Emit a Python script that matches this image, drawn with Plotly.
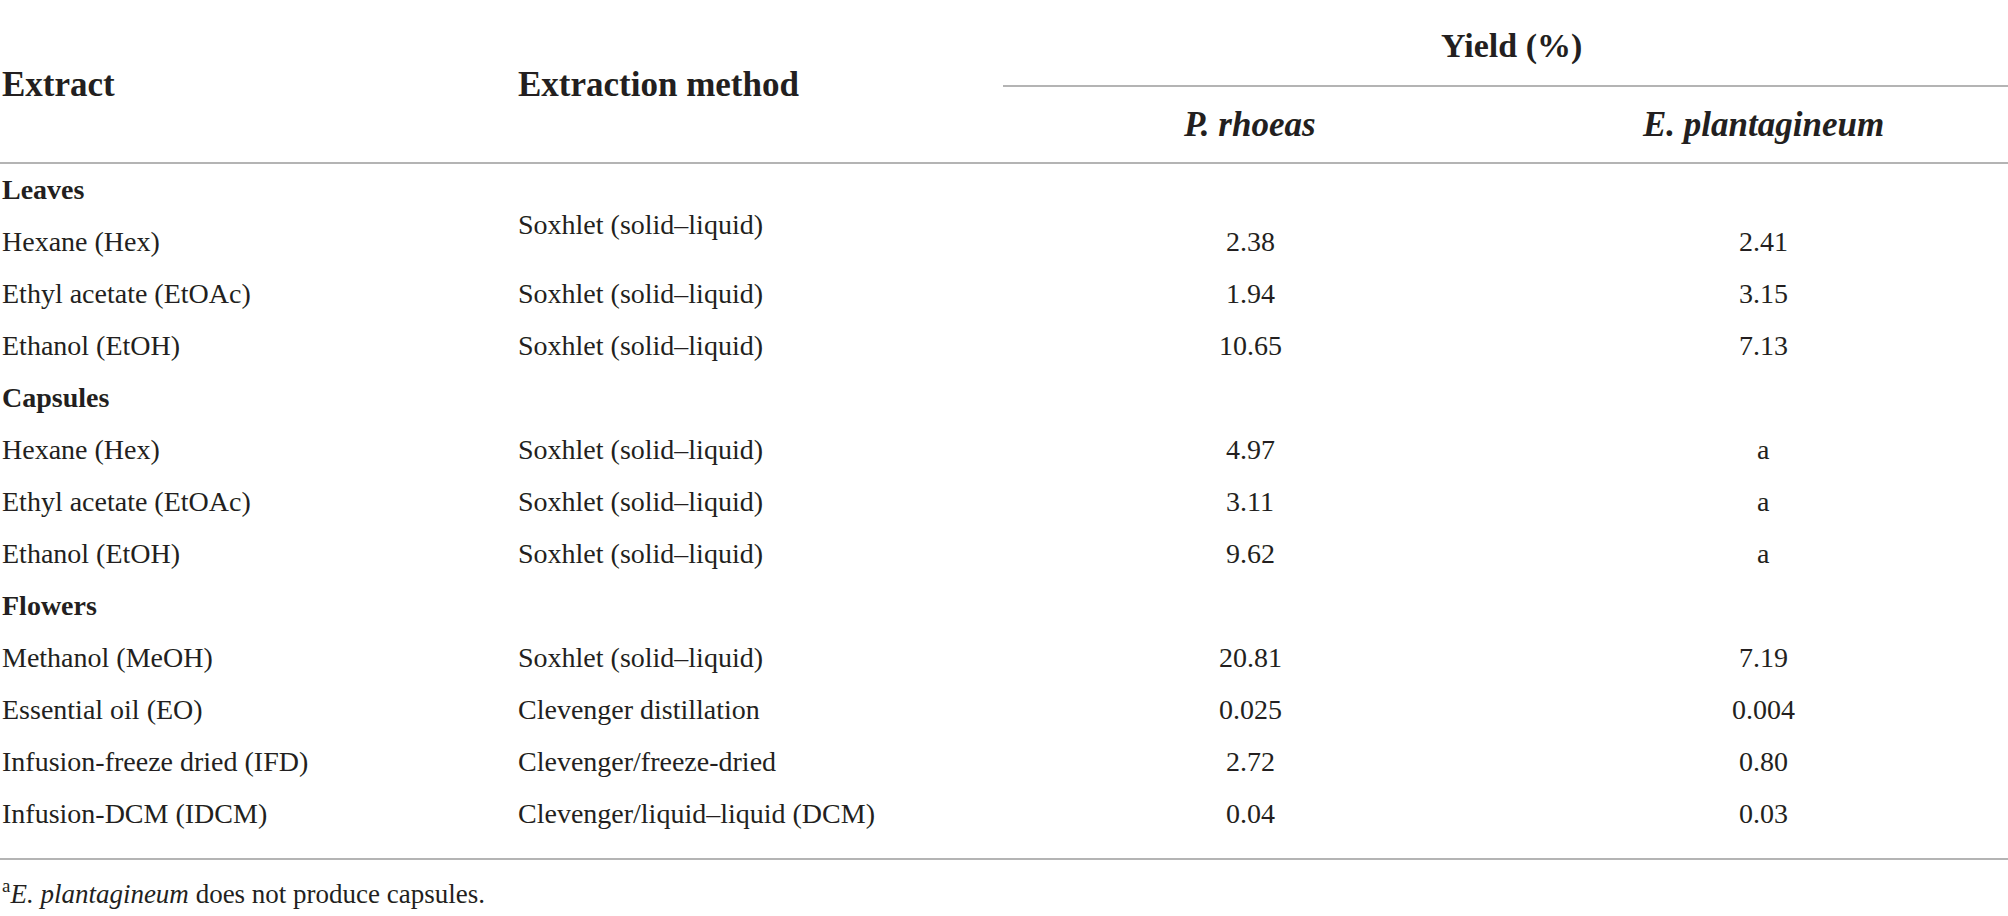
import plotly.graph_objects as go

# table contents
groups = ["Leaves", "Capsules", "Flowers"]
extracts = [
    ["Hexane (Hex)", "Ethyl acetate (EtOAc)", "Ethanol (EtOH)"],
    ["Hexane (Hex)", "Ethyl acetate (EtOAc)", "Ethanol (EtOH)"],
    ["Methanol (MeOH)", "Essential oil (EO)", "Infusion-freeze dried (IFD)", "Infusion-DCM (IDCM)"],
]
methods = [
    ["Soxhlet (solid–liquid)", "Soxhlet (solid–liquid)", "Soxhlet (solid–liquid)"],
    ["Soxhlet (solid–liquid)", "Soxhlet (solid–liquid)", "Soxhlet (solid–liquid)"],
    ["Soxhlet (solid–liquid)", "Clevenger distillation", "Clevenger/freeze-dried", "Clevenger/liquid–liquid (DCM)"],
]
yield_rhoeas = [
    ["2.38", "1.94", "10.65"],
    ["4.97", "3.11", "9.62"],
    ["20.81", "0.025", "2.72", "0.04"],
]
yield_plantagineum = [
    ["2.41", "3.15", "7.13"],
    ["a", "a", "a"],
    ["7.19", "0.004", "0.80", "0.03"],
]
col_headers = ["Extract", "Extraction method"]
species = ["P. rhoeas", "E. plantagineum"]
span_header = "Yield (%)"
footnote = "<sup>a</sup><i>E. plantagineum</i> does not produce capsules."

W, H = 2008, 916
FONT = "Liberation Serif"
INK = "#231f20"
RULE = "#b4b4b4"

x_extract, x_method = 0, 516
x_sp = [1250, 1763]
row0, step = 189, 52.0

ann = []
def add(x, y, text, size, anchor="left", bold=False, italic=False):
    if italic:
        text = "<i>" + text + "</i>"
    if bold:
        text = "<b>" + text + "</b>"
    ann.append(dict(x=x, y=y, xref="x", yref="y", text=text, showarrow=False,
                    xanchor=anchor, yanchor="middle",
                    font=dict(family=FONT, size=size, color=INK)))

# header
add(x_extract, 84, col_headers[0], 35, bold=True)
add(x_method, 84, col_headers[1], 35, bold=True)
add(1511, 46, span_header, 34, anchor="center", bold=True)
add(1249, 124, species[0], 35, anchor="center", bold=True, italic=True)
add(1763, 124, species[1], 35, anchor="center", bold=True, italic=True)

# body
r = 0
for g, name in enumerate(groups):
    add(x_extract, row0 + r * step, name, 28, bold=True)
    r += 1
    for i in range(len(extracts[g])):
        y = row0 + r * step
        # first method cell sits a little higher in the original
        my = y - 17 if (g == 0 and i == 0) else y
        add(x_extract, y, extracts[g][i], 28)
        add(x_method, my, methods[g][i], 28)
        add(x_sp[0], y, yield_rhoeas[g][i], 28, anchor="center")
        add(x_sp[1], y, yield_plantagineum[g][i], 28, anchor="center")
        r += 1

add(x_extract, 892, footnote, 27)

rules = [
    dict(x0=1003, x1=W, y=86),
    dict(x0=0, x1=W, y=163),
    dict(x0=0, x1=W, y=859),
]
shapes = [dict(type="line", xref="x", yref="y", x0=s["x0"], x1=s["x1"], y0=s["y"], y1=s["y"],
               line=dict(color=RULE, width=2)) for s in rules]

fig = go.Figure()
fig.add_trace(go.Scatter(x=[0, W], y=[0, H], mode="markers", marker=dict(opacity=0),
                         hoverinfo="skip", showlegend=False))
fig.update_layout(
    width=W, height=H,
    margin=dict(l=0, r=0, t=0, b=0),
    paper_bgcolor="white", plot_bgcolor="white",
    annotations=ann, shapes=shapes,
    showlegend=False,
)
fig.update_xaxes(range=[0, W], visible=False, fixedrange=True)
fig.update_yaxes(range=[H, 0], visible=False, fixedrange=True)

fig.write_html("out.html", config={"displayModeBar": False},
               post_script="document.body.style.margin='0';document.body.style.overflow='hidden';")
